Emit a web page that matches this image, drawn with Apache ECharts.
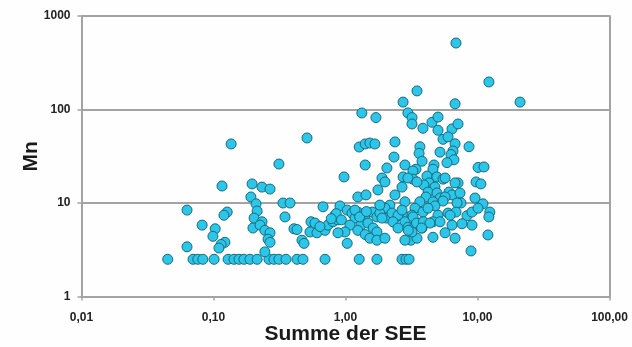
<!DOCTYPE html>
<html>
<head>
<meta charset="utf-8">
<script src="https://cdn.jsdelivr.net/npm/echarts@6/dist/echarts.min.js"></script>
<style>
html,body{margin:0;padding:0;background:#fdfefd;}
#c{width:632px;height:347px;}
</style>
</head>
<body>
<div id="c"></div>
<script>
// Summe der SEE (x) and Mn (y)
const see = [
  // detection-limit row (Mn = 2.5)
  0.045,0.070,0.076,0.083,0.101,0.129,0.143,0.156,0.170,0.189,0.214,0.263,0.287,0.313,0.354,0.429,0.476,0.70,1.27,1.73,2.68,2.87,3.03,
  // left part
  0.063,0.063,0.136,0.116,0.127,0.120,0.082,0.103,0.099,0.122,0.114,0.110,
  0.196,0.233,0.268,0.192,0.210,0.214,0.203,0.233,0.199,0.225,0.245,0.268,0.259,0.268,0.245,
  0.313,0.336,0.380,0.348,0.407,0.429,0.468,0.485,0.511,
  // middle part
  0.676,0.548,0.587,0.538,0.608,0.70,0.737,0.804,0.877,0.832,0.908,1.03,1.12,1.18,1.08,0.991,0.877,1.03,
  0.975,1.41,1.27,1.41,1.53,1.67,1.33,1.70,
  1.24,1.43,1.24,1.41,1.59,1.73,1.31,1.48,1.62,1.73,1.24,1.41,1.53,1.73,1.18,1.76,2.06,1.89,1.99,1.99,
  0.85,0.78,0.64,0.93,1.28,1.44,2.04,2.42,
  // right part, upper
  3.48,2.73,6.76,2.97,3.19,3.19,3.86,4.52,5.02,5.02,6.41,7.12,2.37,2.33,3.66,3.61,3.80,5.48,5.98,6.76,6.52,6.30,6.63,5.87,8.62,5.20,
  6.87,12.2,21.0,2.82,3.42,4.68,4.60,10.1,11.2,3.24,
  // right part, middle
  2.73,3.24,4.14,4.93,5.48,4.29,3.93,4.76,4.22,4.93,6.08,6.41,7.12,9.75,10.6,2.97,3.48,5.68,6.76,2.37,4.07,5.20,5.68,7.37,2.68,
  // right part, lower
  9.57,11.0,12.4,12.2,7.50,5.48,4.60,3.66,2.82,3.36,3.86,2.92,4.76,5.02,5.98,8.32,9.08,10.1,9.08,7.63,5.68,6.76,4.60,6.41,4.60,4.22,
  12.0,8.93,3.13,3.48,2.17,1.99,1.82,1.89,2.25,2.50,2.68,3.19,2.82,2.97,3.36,3.66,3.19,2.82,2.29,2.50,1.82,7.0,6.87,3.80,
  3.25,3.45,3.89,4.36,5.20,6.20,2.99,3.77
];
const mn = [
  2.5,2.5,2.5,2.5,2.5,2.5,2.5,2.5,2.5,2.5,2.5,2.5,2.5,2.5,2.5,2.5,2.5,2.5,2.5,2.5,2.5,2.5,2.5,
  8.4,3.4,42.8,15.2,8.0,7.4,5.8,5.3,4.4,3.8,3.6,3.3,
  16.0,14.8,14.1,11.6,9.8,8.2,6.9,6.3,5.4,5.8,5.1,4.8,4.1,3.8,3.0,
  26.1,10.0,10.0,7.1,5.3,5.2,4.0,3.7,49.6,
  9.1,6.3,6.1,4.9,4.8,5.1,5.8,6.3,6.6,7.4,9.3,8.4,7.8,6.9,5.8,4.9,4.8,3.7,
  19.0,25.5,39.7,42.8,43.8,42.8,91.8,82,
  11.6,12.2,8.0,7.4,8.0,7.1,5.8,6.1,5.4,4.9,5.1,4.6,4.2,4.0,8.4,13.8,23.7,18.5,16.8,4.2,
  7.7,6.8,5.6,6.6,7.1,8.1,6.9,7.1,
  158,120,115,92,82,70,63,73,83,60,62,70,45,31,40,34,28,48,51,43,36,33,29,27,40,35,
  514,197,120,25.5,23,25.5,23,24,24.3,22,
  19,18,19.4,19,18,16.4,15.6,14.8,13.1,12.8,13.1,12.2,16.4,16.8,16.0,18.5,16.8,18.5,16.4,12.2,11.6,11.3,11.6,12.8,14.8,
  11.3,9.8,8.0,7.1,10.0,10.5,10.3,10.3,10.3,8.8,8.0,7.1,9.3,7.4,7.8,7.3,8.0,8.8,5.8,6.0,4.8,4.2,4.3,5.8,6.3,8.8,
  4.55,3.07,4.0,4.2,9.5,8.8,7.8,6.9,7.8,7.4,8.4,7.4,6.3,5.5,5.8,6.1,4.9,4.0,6.3,5.4,9.5,10.0,8.0,5.4,
  7.1,6.1,6.3,6.1,6.3,7.4,5.1,5.4
];
const xTicks = [0.01, 0.1, 1, 10, 100];
const yTicks = [1, 10, 100, 1000];
const xTitle = 'Summe der SEE';
const yTitle = 'Mn';

const points = see.map((v, i) => [v, mn[i]]);
const FONT = '"Liberation Sans", Arial, sans-serif';
const LINE = '#a3a3a3';

const chart = echarts.init(document.getElementById('c'), null, {renderer: 'canvas'});
chart.setOption({
  backgroundColor: '#fdfefd',
  animation: false,
  grid: {left: 81.5, right: 22.5, top: 16, bottom: 50.5, containLabel: false, outerBoundsMode: 'none'},
  xAxis: {
    type: 'log', logBase: 10, min: xTicks[0], max: xTicks[xTicks.length - 1],
    name: xTitle, nameLocation: 'middle', nameGap: 27, nameMoveOverlap: false,
    nameTextStyle: {fontFamily: FONT, fontWeight: 'bold', fontSize: 21, color: '#1a1a1a'},
    axisLine: {show: true, lineStyle: {color: LINE, width: 2}},
    axisTick: {show: true, inside: false, length: 4, lineStyle: {color: LINE, width: 1.5}},
    splitLine: {show: false},
    minorTick: {show: false},
    axisLabel: {
      fontFamily: FONT, fontWeight: 'bold', fontSize: 12, color: '#222', margin: 15,
      formatter: v => v.toFixed(2).replace('.', ',')
    }
  },
  yAxis: [{
    type: 'log', logBase: 10, min: yTicks[0], max: yTicks[yTicks.length - 1],
    name: yTitle, nameLocation: 'middle', nameGap: 40, nameRotate: 90, nameMoveOverlap: false,
    nameTextStyle: {fontFamily: FONT, fontWeight: 'bold', fontSize: 21, color: '#1a1a1a'},
    axisLine: {show: true, lineStyle: {color: LINE, width: 2}},
    axisTick: {show: true, inside: false, length: 4, lineStyle: {color: LINE, width: 1.5}},
    splitLine: {show: true, lineStyle: {color: LINE, width: 2}},
    axisLabel: {
      fontFamily: FONT, fontWeight: 'bold', fontSize: 12, color: '#222', margin: 11,
      formatter: v => String(Math.round(v))
    }
  }, {
    type: 'log', logBase: 10, min: yTicks[0], max: yTicks[yTicks.length - 1],
    position: 'right',
    axisLine: {show: true, lineStyle: {color: LINE, width: 2}},
    axisTick: {show: false}, axisLabel: {show: false}, splitLine: {show: false}
  }],
  series: [{
    type: 'scatter',
    data: points,
    symbol: 'circle',
    symbolSize: 10,
    itemStyle: {color: '#2cc6e8', borderColor: '#176a80', borderWidth: 1, opacity: 1}
  }]
});
</script>
</body>
</html>
